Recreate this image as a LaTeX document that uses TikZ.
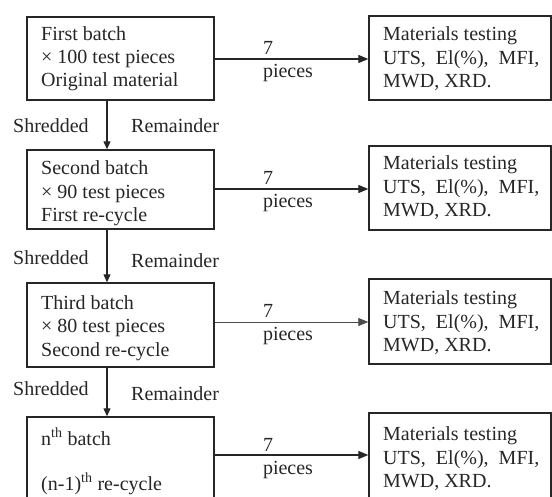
\documentclass[tikz,border=0pt]{standalone}
\usepackage{fontspec}
\setmainfont{Liberation Serif}
\usetikzlibrary{arrows.meta}
\begin{document}
\begin{tikzpicture}[x=1pt,y=-1pt,
  box/.style={draw=black!85, line width=1.4pt, rectangle, inner sep=0pt, minimum width=#1},
  lbox/.style={box=187},
  rbox/.style={box=182},
  txt/.style={anchor=base west, inner sep=0pt, font=\fontsize{20}{24}\selectfont, text=black!85},
  lbl/.style={anchor=base, inner sep=0pt, font=\fontsize{20}{24}\selectfont, text=black!85},
  harr/.style={draw=black!85, line width=1.3pt, -{Triangle[length=10pt,width=8pt]}},
  varr/.style={draw=black!85, line width=1.2pt, -{Triangle[length=8pt,width=7pt]}}
]
\clip (0,0) rectangle (552,497);
\fill[white] (0,0) rectangle (552,497);

% left boxes
\node[lbox, minimum height=83] (b1) at (120.5,58.5) {};
\node[lbox, minimum height=79] (b2) at (120.5,189.5) {};
\node[lbox, minimum height=84] (b3) at (120.5,325) {};
\node[lbox, minimum height=100] (b4) at (120.5,467) {};

% right boxes
\node[rbox, minimum height=84] (r1) at (460,58) {};
\node[rbox, minimum height=84] (r2) at (460,188) {};
\node[rbox, minimum height=85] (r3) at (460,321.5) {};
\node[rbox, minimum height=100] (r4) at (460,463) {};

% left texts
\node[txt] (t11) at (41,41) {First batch};
\node[txt] (t12) at (41,64) {× 100 test pieces};
\node[txt] (t13) at (41,87) {Original material};
\node[txt] (t21) at (41,175) {Second batch};
\node[txt] (t22) at (41,199) {× 90 test pieces};
\node[txt] (t23) at (41,222) {First re-cycle};
\node[txt] (t31) at (41,309) {Third batch};
\node[txt] (t32) at (41,333) {× 80 test pieces};
\node[txt] (t33) at (41,356) {Second re-cycle};
\node[txt] (t41) at (41,445) {n\textsuperscript{th} batch};
\node[txt] (t42) at (41,490) {(n-1)\textsuperscript{th} re-cycle};

% right texts
\foreach \n/\y in {1/41,2/170,3/305,4/440}{
  \node[txt] (m\n a) at (383,\y) {Materials testing};
  \node[txt] (m\n b) at (383,\y+24) {UTS,\ \ El(\%),\ \ MFI,};
  \node[txt] (m\n c) at (383,\y+47) {MWD, XRD.};
}

% horizontal arrows
\draw[harr] (b1.east |- 0,59) -- (r1.west |- 0,59);
\draw[harr] (b2.east |- 0,189) -- (r2.west |- 0,189);
\draw[harr, line width=0.8pt, draw=black!70] (b3.east |- 0,322) -- (r3.west |- 0,322);
\draw[harr] (b4.east |- 0,455) -- (r4.west |- 0,455);

% labels on horizontal arrows
\foreach \k/\y in {1/59,2/189,3/322,4/455}{
  \node[lbl] (s\k) at (268,\y-4) {7};
  \node[lbl] (p\k) at (288,\y+19) {pieces};
}

% vertical arrows
\draw[varr] (b1.south -| 107,0) -- (b2.north -| 107,0);
\draw[varr] (b2.south -| 107,0) -- (b3.north -| 107,0);
\draw[varr] (b3.south -| 107,0) -- (b4.north -| 107,0);

% shredded / remainder labels
\node[txt] (sh1) at (13,133) {Shredded};
\node[txt] (re1) at (131,133) {Remainder};
\node[txt] (sh2) at (13,265) {Shredded};
\node[txt] (re2) at (131,268) {Remainder};
\node[txt] (sh3) at (13,395) {Shredded};
\node[txt] (re3) at (131,400) {Remainder};
\end{tikzpicture}
\end{document}
